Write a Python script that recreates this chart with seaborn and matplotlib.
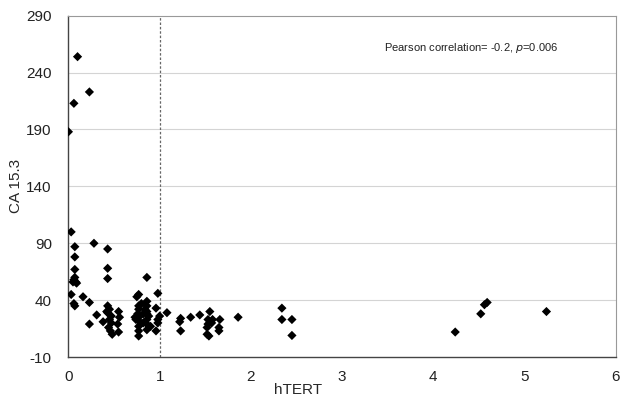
import pandas as pd
import matplotlib.pyplot as plt
import seaborn as sns

# values
htert = [0.00, 0.06, 0.10, 0.23,
         0.03, 0.07, 0.07, 0.07, 0.06, 0.05, 0.08, 0.09, 0.07, 0.03, 0.07, 0.06,
         0.28, 0.43, 0.43, 0.43, 0.86, 0.16, 0.23, 0.98, 0.77, 0.75, 0.31, 0.23, 0.38,
         0.43, 0.45, 0.43, 0.47, 0.45, 0.44, 0.46, 0.48, 0.42, 0.47,
         0.55, 0.56, 0.54, 0.55,
         0.77, 0.77, 0.76, 0.77, 0.77, 0.77, 0.77, 0.77, 0.73, 0.74,
         0.86, 0.86, 0.86, 0.86, 0.86, 0.86, 0.86, 0.88, 0.90, 0.82, 0.82, 0.80, 0.84,
         0.96, 0.98, 0.98, 0.96, 1.00,
         1.08, 1.23, 1.22, 1.23, 1.34, 1.44, 1.55, 1.53, 1.58, 1.66, 1.53, 1.57,
         1.65, 1.65, 1.52, 1.52, 1.54, 1.86, 2.34, 2.34, 2.45, 2.45,
         4.24, 4.52, 4.56, 4.59, 5.24]
ca153 = [188, 213, 254, 223,
         100, 87, 78, 67, 58, 56, 56, 55, 60, 45, 35, 37,
         90, 85, 68, 59, 60, 43, 38, 46, 45, 43, 27, 19, 21,
         35, 32, 29, 26, 23, 16, 13, 10, 30, 20,
         30, 25, 19, 12,
         35, 32, 28, 25, 22, 17, 13, 8.5, 25, 23,
         39, 35, 30, 28, 23, 19, 14, 26, 17, 28, 20, 37, 32,
         33, 23, 20, 13, 26,
         29, 24, 21, 13, 25, 27, 30, 23, 23, 23, 19, 20,
         16, 13, 16, 10, 8.5, 25, 33, 23, 23, 9,
         12, 28, 36, 38, 30]

x_ticks = [0, 1, 2, 3, 4, 5, 6]
y_ticks = [-10, 40, 90, 140, 190, 240, 290]
cutoff = 1

df = pd.DataFrame({'hTERT': htert, 'CA 15.3': ca153})

sns.set_style('white')
plt.rcParams['font.family'] = ['Liberation Sans', 'DejaVu Sans']
plt.rcParams['axes.unicode_minus'] = False

fig = plt.figure(figsize=(6.22, 4.03), dpi=100)
ax = fig.add_axes([0.11, 0.114, 0.88, 0.847])

for y in y_ticks[1:-1]:
    ax.axhline(y, color='#d4d4d4', lw=0.8, zorder=0)
ax.axvline(cutoff, color='#666666', lw=0.9, ls=(0, (2, 1.5)), zorder=1)

sns.scatterplot(data=df, x='hTERT', y='CA 15.3', marker='D', color='black',
                s=22, edgecolor='none', ax=ax, zorder=3)

ax.set_xlim(0, 6)
ax.set_ylim(-10, 290)
ax.set_xticks(x_ticks)
ax.set_yticks(y_ticks)
ax.tick_params(axis='both', labelsize=11, colors='#222222', length=3, width=0.6, direction='out')
ax.tick_params(axis='x', pad=6)
ax.tick_params(axis='y', pad=9)
ax.set_xlabel('hTERT', fontsize=11)
ax.xaxis.set_label_coords(0.42, -0.075)
ax.set_ylabel('CA 15.3', fontsize=11, labelpad=2)

for side in ['left', 'bottom']:
    ax.spines[side].set_color('#444444')
    ax.spines[side].set_linewidth(1.0)
for side in ['top', 'right']:
    ax.spines[side].set_color('#999999')
    ax.spines[side].set_linewidth(0.8)

ax.text(3.46, 262, 'Pearson correlation= -0.2, $\\it{p}$=0.006', fontsize=8,
        va='center', ha='left', color='#222222')

fig.savefig('out.png', dpi=100)
